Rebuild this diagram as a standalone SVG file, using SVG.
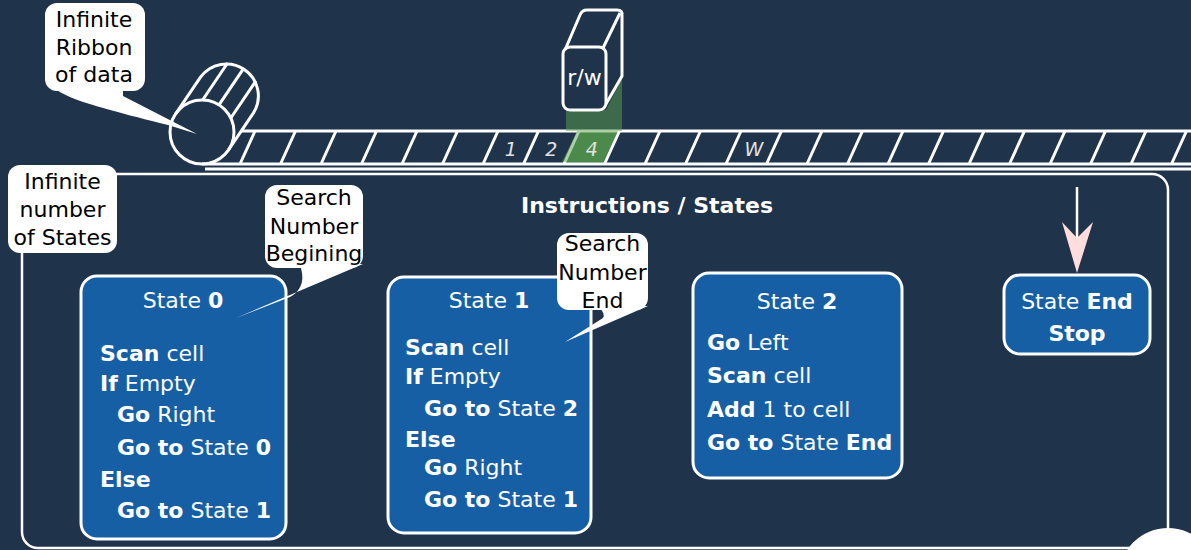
<svg xmlns="http://www.w3.org/2000/svg" width="1191" height="550" viewBox="0 0 1191 550">
  <defs>
    <style>
      .ln { fill: none; stroke: #ffffff; stroke-width: 3; stroke-linejoin: round; }
      .thin { fill: none; stroke: #ffffff; stroke-width: 2.5; }
      .bubble { fill: #ffffff; }
      .btxt { font-family: "DejaVu Sans", "Liberation Sans", sans-serif; font-size: 22px; fill: #000000; text-anchor: middle; }
      .state { fill: #175fa5; stroke: #ffffff; stroke-width: 3; }
      .stxt { font-family: "DejaVu Sans", "Liberation Sans", sans-serif; font-size: 22px; fill: #ffffff; }
      .mid { text-anchor: middle; }
      .b { font-weight: bold; }
      .cell { font-family: "DejaVu Sans", "Liberation Sans", sans-serif; font-size: 19px; font-style: italic; fill: #e2e2e2; text-anchor: middle; }
      .title { font-family: "DejaVu Sans", "Liberation Sans", sans-serif; font-size: 22px; font-weight: bold; fill: #ffffff; text-anchor: middle; }
    </style>
  </defs>

  <rect x="0" y="0" width="1191" height="550" fill="#1f334b"/>

  <!-- container of the states -->
  <g id="states-frame">
    <rect class="thin" x="22" y="174" width="1146" height="374" rx="16"/>
    <circle cx="1168" cy="577" r="49" fill="#ffffff"/>
    <text class="title" x="647" y="213">Instructions / States</text>
  </g>

  <!-- tape -->
  <g id="tape">
    <!-- cell under the head -->
    <path d="M579,131 L619.5,131 L604.5,164 L564,164 Z" fill="#3b734b"/>
    <line class="ln" x1="241" y1="131" x2="1191" y2="131"/>
    <line class="ln" x1="202" y1="164" x2="1191" y2="164"/>
    <line class="ln" x1="205" y1="169" x2="1191" y2="169"/>
    <g class="ln">
      <line x1="240" y1="164" x2="255" y2="131"/>
      <line x1="280.5" y1="164" x2="295.5" y2="131"/>
      <line x1="321" y1="164" x2="336" y2="131"/>
      <line x1="361.5" y1="164" x2="376.5" y2="131"/>
      <line x1="402" y1="164" x2="417" y2="131"/>
      <line x1="442.5" y1="164" x2="457.5" y2="131"/>
      <line x1="483" y1="164" x2="498" y2="131"/>
      <line x1="523.5" y1="164" x2="538.5" y2="131"/>
      <line x1="564" y1="164" x2="579" y2="131"/>
      <line x1="604.5" y1="164" x2="619.5" y2="131"/>
      <line x1="645" y1="164" x2="660" y2="131"/>
      <line x1="685.5" y1="164" x2="700.5" y2="131"/>
      <line x1="726" y1="164" x2="741" y2="131"/>
      <line x1="766.5" y1="164" x2="781.5" y2="131"/>
      <line x1="807" y1="164" x2="822" y2="131"/>
      <line x1="847.5" y1="164" x2="862.5" y2="131"/>
      <line x1="888" y1="164" x2="903" y2="131"/>
      <line x1="928.5" y1="164" x2="943.5" y2="131"/>
      <line x1="969" y1="164" x2="984" y2="131"/>
      <line x1="1009.5" y1="164" x2="1024.5" y2="131"/>
      <line x1="1050" y1="164" x2="1065" y2="131"/>
      <line x1="1090.5" y1="164" x2="1105.5" y2="131"/>
      <line x1="1131" y1="164" x2="1146" y2="131"/>
      <line x1="1171.5" y1="164" x2="1186.5" y2="131"/>
    </g>
    <!-- roll -->
    <path class="ln" d="M175.5,114.1 L200.5,77.1 A32,32 0 0 1 253.5,112.9 L228.5,149.9"/>
    <g class="ln">
      <line x1="202.6" y1="100" x2="227.6" y2="63"/>
      <line x1="219" y1="104.9" x2="244" y2="67.9"/>
      <line x1="230.8" y1="118" x2="255.8" y2="81"/>
    </g>
    <circle class="ln" cx="202" cy="132" r="32" fill="#1f334b"/>
  </g>

  <!-- read/write head -->
  <g id="head">
    <path d="M566,110 L606,110 L622,78 L622,131 L618,131 L603,162 L562,162 L577,131 L566,131 Z" fill="#5da14d" fill-opacity="0.5"/>
    <text class="cell" x="510.8" y="156">1</text>
    <text class="cell" x="551.3" y="156">2</text>
    <text class="cell" x="591.8" y="156" fill="#d6e6d4">4</text>
    <text class="cell" x="753.8" y="156">W</text>
    <path class="ln" d="M565,50 L580,15 Q582,10 587,10 L617,10 Q623,10 622,16 L622,76 L606,104"/>
    <line class="ln" x1="603" y1="48" x2="620" y2="13"/>
    <rect class="ln" x="563" y="47" width="43" height="63" rx="7" fill="#1f334b"/>
    <text class="stxt mid" x="584.5" y="85" font-size="20">r/w</text>
  </g>

  <!-- callouts -->
  <g id="note-ribbon">
    <path class="bubble" d="M48,80 C55,95 80,103 168,125 L197,134 L123,96 L123,85 Z"/>
    <rect class="bubble" x="45" y="3" width="100" height="88" rx="12"/>
    <text class="btxt" x="94" y="27">Infinite</text>
    <text class="btxt" x="94" y="55">Ribbon</text>
    <text class="btxt" x="94" y="82">of data</text>
  </g>

  <g id="note-states">
    <rect class="bubble" x="8" y="165" width="109" height="88" rx="12"/>
    <text class="btxt" x="62.5" y="189">Infinite</text>
    <text class="btxt" x="62.5" y="217">number</text>
    <text class="btxt" x="62.5" y="245">of States</text>
  </g>

  <!-- states -->
  <g id="state-0">
    <rect class="state" x="81" y="276" width="205" height="263" rx="16"/>
    <text class="stxt mid" x="183" y="308">State <tspan class="b">0</tspan></text>
    <text class="stxt" x="100" y="361"><tspan class="b">Scan</tspan> cell</text>
    <text class="stxt" x="100" y="391"><tspan class="b">If</tspan> Empty</text>
    <text class="stxt" x="117" y="422"><tspan class="b">Go</tspan> Right</text>
    <text class="stxt" x="117" y="455"><tspan class="b">Go to</tspan> State <tspan class="b">0</tspan></text>
    <text class="stxt" x="100" y="487"><tspan class="b">Else</tspan></text>
    <text class="stxt" x="117" y="518"><tspan class="b">Go to</tspan> State <tspan class="b">1</tspan></text>
  </g>

  <g id="state-1">
    <rect class="state" x="388" y="277" width="203" height="256" rx="16"/>
    <text class="stxt mid" x="489" y="308">State <tspan class="b">1</tspan></text>
    <text class="stxt" x="405" y="355"><tspan class="b">Scan</tspan> cell</text>
    <text class="stxt" x="405" y="384"><tspan class="b">If</tspan> Empty</text>
    <text class="stxt" x="424" y="416"><tspan class="b">Go to</tspan> State <tspan class="b">2</tspan></text>
    <text class="stxt" x="405" y="447"><tspan class="b">Else</tspan></text>
    <text class="stxt" x="424" y="475"><tspan class="b">Go</tspan> Right</text>
    <text class="stxt" x="424" y="507"><tspan class="b">Go to</tspan> State <tspan class="b">1</tspan></text>
  </g>

  <g id="state-2">
    <rect class="state" x="693" y="273" width="209" height="205" rx="16"/>
    <text class="stxt mid" x="797" y="309">State <tspan class="b">2</tspan></text>
    <text class="stxt" x="707" y="350"><tspan class="b">Go</tspan> Left</text>
    <text class="stxt" x="707" y="383"><tspan class="b">Scan</tspan> cell</text>
    <text class="stxt" x="707" y="417"><tspan class="b">Add</tspan> 1 to cell</text>
    <text class="stxt" x="707" y="450"><tspan class="b">Go to</tspan> State <tspan class="b">End</tspan></text>
  </g>

  <g id="state-end">
    <rect class="state" x="1004" y="275" width="146" height="79" rx="16"/>
    <text class="stxt mid" x="1077" y="309">State <tspan class="b">End</tspan></text>
    <text class="stxt mid b" x="1077" y="341">Stop</text>
  </g>

  <g id="note-begin">
    <path class="bubble" d="M300,265 C305,280 302,290 290,297 L236,318 L363,264 Z"/>
    <rect class="bubble" x="265" y="185" width="98" height="83" rx="12"/>
    <text class="btxt" x="314" y="205">Search</text>
    <text class="btxt" x="314" y="234">Number</text>
    <text class="btxt" x="314" y="261">Begining</text>
  </g>

  <g id="note-end">
    <path class="bubble" d="M598,306 Q606,314 603,318 L565,342 L648,306 Z"/>
    <rect class="bubble" x="557" y="233" width="91" height="77" rx="12"/>
    <text class="btxt" x="602.5" y="251">Search</text>
    <text class="btxt" x="602.5" y="280">Number</text>
    <text class="btxt" x="602.5" y="308">End</text>
  </g>

  <!-- connectors -->
  <g id="connectors">
    <line x1="1077" y1="187" x2="1077" y2="240" stroke="#ffffff" stroke-width="2.5"/>
    <path d="M1077,273 L1062,222 L1077,238 L1093,222 Z" fill="#ffdddd"/>
  </g>
</svg>
